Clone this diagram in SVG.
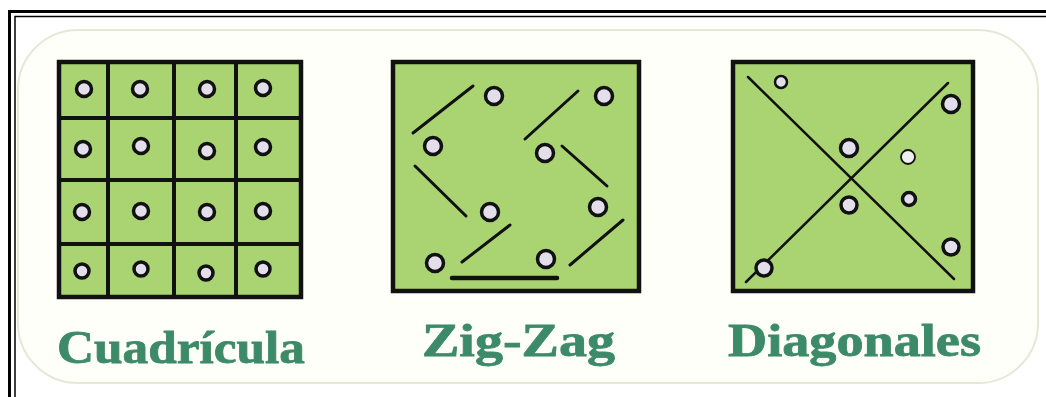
<svg xmlns="http://www.w3.org/2000/svg" width="1046" height="397" viewBox="0 0 1046 397">
<style>
.panel{fill:#aad471;stroke:#111;stroke-width:4.5}
.grid{stroke:#111;stroke-width:4;fill:none}
.ln{stroke:#111;stroke-width:3;stroke-linecap:round;fill:none}
.dot{fill:#e2dfea;stroke:#111;stroke-width:3.5}
.lbl{font-family:"Liberation Serif","Times New Roman",serif;font-weight:bold;font-size:46px;fill:#3d8a69;stroke:#3d8a69;stroke-width:0.8}
</style>
<rect x="0" y="0" width="1046" height="397" fill="#ffffff"/>
<g id="frame">
<path d="M9.5 397 V11.5 H1046" fill="none" stroke="#000" stroke-width="3"/>
<path d="M15 397 V16.5 H1046" fill="none" stroke="#000" stroke-width="1.5"/>
<rect x="18" y="30" width="1020" height="353" rx="60" ry="60" fill="#fffffa" stroke="#e6e8d6" stroke-width="2"/>
</g>
<g id="cuadricula">
<rect class="panel" x="59" y="62" width="242" height="235"/>
<path class="grid" d="M108 62V297M174 62V297M236 62V297M59 118H303M59 180H303M59 244H303"/>
<g>
<circle class="dot" cx="84" cy="89" r="7.5"/><circle class="dot" cx="140" cy="89" r="7.5"/><circle class="dot" cx="207" cy="89" r="7.5"/><circle class="dot" cx="263" cy="88" r="7.5"/>
<circle class="dot" cx="83" cy="149" r="7.5"/><circle class="dot" cx="141" cy="146" r="7.5"/><circle class="dot" cx="207" cy="151" r="7.5"/><circle class="dot" cx="263" cy="147" r="7.5"/>
<circle class="dot" cx="82" cy="212" r="7.5"/><circle class="dot" cx="141" cy="211" r="7.5"/><circle class="dot" cx="207" cy="212" r="7.5"/><circle class="dot" cx="263" cy="211" r="7.5"/>
<circle class="dot" cx="82" cy="271" r="7"/><circle class="dot" cx="141" cy="269" r="7"/><circle class="dot" cx="206" cy="273" r="7"/><circle class="dot" cx="263" cy="269" r="7"/>
</g>
<text class="lbl" x="57" y="363" textLength="248" lengthAdjust="spacingAndGlyphs">Cuadrícula</text>
</g>
<g id="zigzag">
<rect class="panel" x="393" y="62" width="246" height="229"/>
<g>
<line class="ln" x1="413" y1="133" x2="473" y2="86"/>
<line class="ln" x1="525" y1="139" x2="578" y2="91"/>
<line class="ln" x1="562" y1="146" x2="607" y2="186"/>
<line class="ln" x1="415" y1="166" x2="466" y2="216"/>
<line class="ln" x1="462" y1="262" x2="510" y2="225"/>
<line class="ln" x1="570" y1="265" x2="623" y2="220"/>
<line class="ln" x1="452" y1="278" x2="557" y2="278" style="stroke-width:4.5"/>
</g>
<g>
<circle class="dot" cx="494" cy="96" r="8.5"/><circle class="dot" cx="604" cy="96" r="8.5"/>
<circle class="dot" cx="433" cy="146" r="8.5"/><circle class="dot" cx="545" cy="153" r="8.5"/>
<circle class="dot" cx="490" cy="212" r="8.5"/><circle class="dot" cx="598" cy="207" r="8.5"/>
<circle class="dot" cx="435" cy="263" r="8.5"/><circle class="dot" cx="546" cy="259" r="8.5"/>
</g>
<text class="lbl" x="422" y="356" textLength="193" lengthAdjust="spacingAndGlyphs">Zig-Zag</text>
</g>
<g id="diagonales">
<rect class="panel" x="733" y="62" width="240" height="229"/>
<line class="ln" x1="748" y1="77" x2="954" y2="279" style="stroke-width:2.5"/>
<line class="ln" x1="948" y1="83" x2="746" y2="282" style="stroke-width:2.5"/>
<g>
<circle class="dot" cx="781" cy="82" r="6" style="stroke-width:2.5"/>
<circle class="dot" cx="951" cy="104" r="8.5"/>
<circle class="dot" cx="849" cy="148" r="8.5"/>
<circle class="dot" cx="908" cy="157" r="7" style="stroke-width:1.8;fill:#eef0ee"/>
<circle class="dot" cx="849" cy="205" r="8"/>
<circle class="dot" cx="909" cy="199" r="6.5"/>
<circle class="dot" cx="951" cy="247" r="8"/>
<circle class="dot" cx="764" cy="268" r="8"/>
</g>
<text class="lbl" x="728" y="356" textLength="253" lengthAdjust="spacingAndGlyphs">Diagonales</text>
</g>
</svg>
